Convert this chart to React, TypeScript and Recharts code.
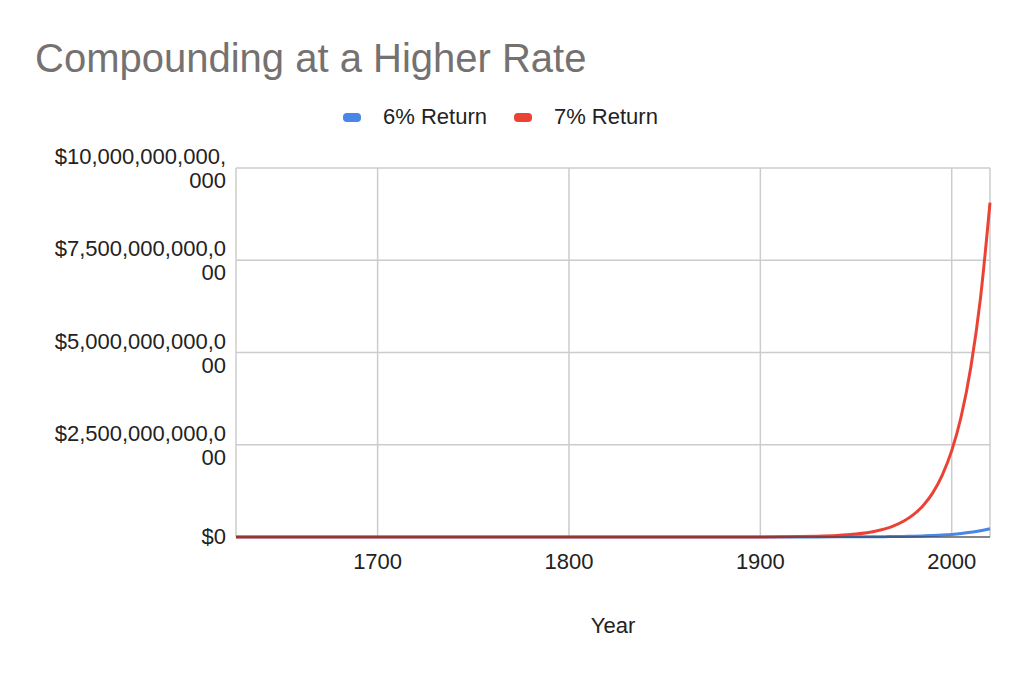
import React from "react";
import { LineChart, Line, XAxis, YAxis, CartesianGrid } from "recharts";

const years = [1626, 1700, 1800, 1850, 1900, 1910, 1920, 1930, 1940, 1950, 1960, 1965, 1970, 1975, 1980, 1985, 1990, 1995, 2000, 2005, 2010, 2015, 2020];
// values in trillions of dollars
const return6 = [0, 0, 0, 0, 0.0005, 0.0009, 0.0016, 0.0028, 0.005, 0.0038, 0.0068, 0.009, 0.0122, 0.016, 0.022, 0.029, 0.039, 0.052, 0.07, 0.094, 0.126, 0.168, 0.225];
const return7 = [0, 0, 0, 0.0001, 0.0027, 0.0053, 0.0104, 0.0205, 0.0404, 0.0795, 0.156, 0.219, 0.308, 0.432, 0.605, 0.848, 1.19, 1.67, 2.34, 3.28, 4.61, 6.46, 9.06];
const yTicks = [0, 2.5, 5, 7.5, 10];
const yTickLabels = [["$0"], ["$2,500,000,000,0", "00"], ["$5,000,000,000,0", "00"], ["$7,500,000,000,0", "00"], ["$10,000,000,000,", "000"]];
const xTicks = [1700, 1800, 1900, 2000];

const data = years.map((year, i) => ({ year, r6: return6[i], r7: return7[i] }));
const font = "'Liberation Sans', Arial, sans-serif";

function YTick({ y, payload }: any) {
  const lines = yTickLabels[yTicks.indexOf(payload.value)] || [""];
  const offsets = lines.length === 1 ? [0] : [-11, 13];
  return (
    <g>
      {lines.map((l, i) => (
        <text key={i} x={226} y={y + offsets[i]} dy={7} textAnchor="end" fontSize={22} fill="#222" fontFamily={font}>{l}</text>
      ))}
    </g>
  );
}

export default function App() {
  return (
    <div style={{ position: "absolute", left: 0, top: 0, width: 1024, height: 674, background: "#fff", fontFamily: font }}>
      <div style={{ position: "absolute", left: 35, top: 36, fontSize: 40, color: "#757171" }}>Compounding at a Higher Rate</div>
      <div style={{ position: "absolute", left: 343, top: 104, fontSize: 22, color: "#222", display: "flex", gap: 27 }}>
        <span style={{ display: "flex", alignItems: "center" }}>
          <span style={{ width: 18, height: 9, borderRadius: 4, background: "#4a86e8", marginRight: 22 }} />6% Return
        </span>
        <span style={{ display: "flex", alignItems: "center" }}>
          <span style={{ width: 18, height: 9, borderRadius: 4, background: "#ea4335", marginRight: 22 }} />7% Return
        </span>
      </div>
      <LineChart width={1024} height={674} data={data} margin={{ top: 168, right: 34, left: 0, bottom: 0 }}>
        <CartesianGrid stroke="#cccccc" strokeWidth={1.5} />
        <XAxis
          dataKey="year"
          type="number"
          domain={[1626, 2020]}
          ticks={xTicks}
          height={137}
          tickLine={false}
          stroke="#333"
          tick={{ fontSize: 22, fill: "#222", fontFamily: font, dy: 8 }}
          label={{ value: "Year", position: "insideTop", offset: 80, fontSize: 22, fill: "#222", fontFamily: font }}
        />
        <YAxis width={236} domain={[0, 10]} ticks={yTicks} axisLine={false} tickLine={false} tick={<YTick />} />
        <Line type="monotone" dataKey="r6" stroke="#4a86e8" strokeWidth={3} dot={false} isAnimationActive={false} />
        <Line type="monotone" dataKey="r7" stroke="#ea4335" strokeWidth={3} dot={false} isAnimationActive={false} />
      </LineChart>
    </div>
  );
}
